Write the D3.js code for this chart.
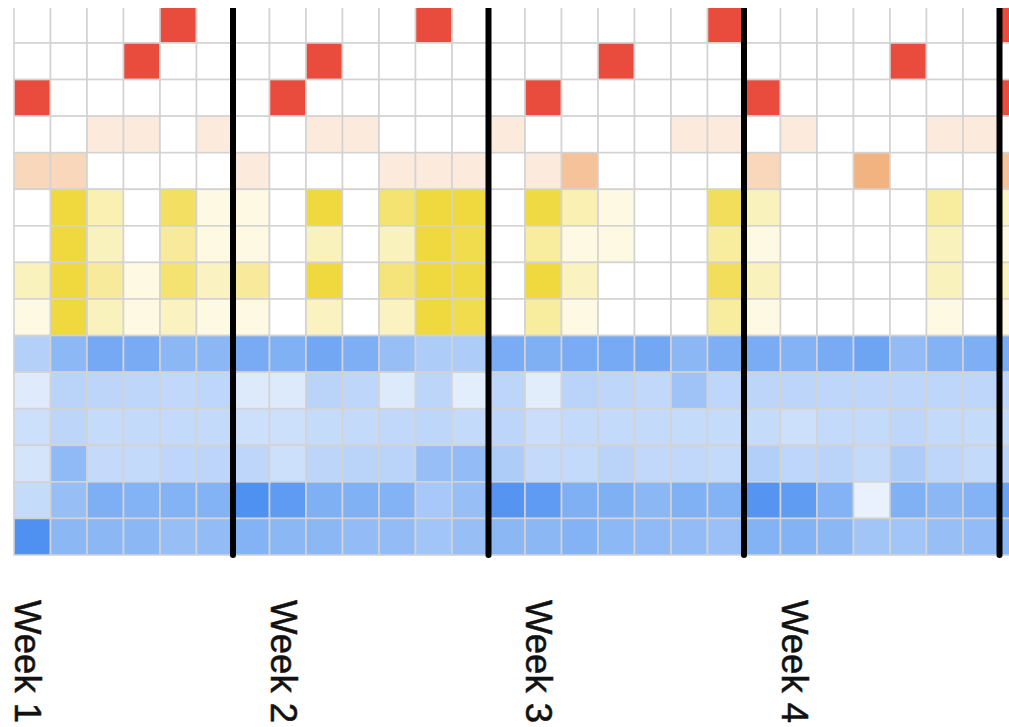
<!DOCTYPE html>
<html>
<head>
<meta charset="utf-8">
<script src="https://cdn.jsdelivr.net/npm/d3@7"></script>
<style>
html, body { margin: 0; padding: 0; background: #ffffff; overflow: hidden; }
</style>
</head>
<body>
<svg id="chart" width="1009" height="727"></svg>
<script>
// ---- data ----
const days = d3.range(1, 29).map(d => "Day " + d);
const weekLabels = ["Week 1", "Week 2", "Week 3", "Week 4"];
const weekLabelDays = ["Day 1", "Day 8", "Day 15", "Day 22"];
const weekBreakDays = ["Day 7", "Day 14", "Day 21", "Day 28"];

const rowNames = ["R1","R2","R3","P1","P2","Y1","Y2","Y3","Y4","B1","B2","B3","B4","B5","B6"];
const rowGroups = ["red","red","red","peach","peach","yellow","yellow","yellow","yellow","blue","blue","blue","blue","blue","blue"];

const red1 = [0,0,0,0,100,0,0, 0,0,0,0,100,0,0, 0,0,0,0,0,100,0, 0,0,0,0,0,0,100];
const red2 = [0,0,0,100,0,0,0, 0,100,0,0,0,0,0, 0,0,100,0,0,0,0, 0,0,0,100,0,0,0];
const red3 = [100,0,0,0,0,0,0, 100,0,0,0,0,0,0, 100,0,0,0,0,0,100, 0,0,0,0,0,0,100];

const peach1 = [0,0,20,20,0,20,0, 0,20,20,0,0,0,20, 0,0,0,0,20,20,0, 20,0,0,0,20,20,0];
const peach2 = [40,40,0,0,0,0,20, 0,0,0,20,20,20,0, 20,60,0,0,0,0,40, 0,0,75,0,0,0,60];

const yellow1 = [0,100,40,0,82,15,15, 0,100,0,74,100,100,0, 98,40,15,0,0,86,35, 0,0,0,0,50,0,30];
const yellow2 = [0,100,35,0,52,15,15, 0,35,0,35,100,92,0, 50,15,15,0,0,50,15, 0,0,0,0,35,0,15];
const yellow3 = [35,100,52,15,74,33,52, 0,100,0,70,100,98,0, 100,33,0,0,0,86,35, 0,0,0,0,35,0,35];
const yellow4 = [15,100,35,15,33,15,15, 0,33,0,33,100,92,0, 50,15,0,0,0,50,15, 0,0,0,0,15,0,15];

const blue1 = [33,58,73,71,59,59,71, 65,75,67,51,37,37,70, 66,70,72,75,59,67,70, 63,71,77,54,63,67,70];
const blue2 = [6,30,28,27,25,27,7, 7,30,27,7,28,3,28, 4,30,27,25,46,27,28, 28,27,27,27,27,27,27];
const blue3 = [18,28,22,23,23,23,17, 17,22,23,25,27,23,28, 19,23,23,23,22,22,22, 17,23,23,27,23,22,22];
const blue4 = [13,56,23,23,27,28,27, 17,28,30,30,51,54,37, 23,23,30,25,25,23,34, 27,30,23,37,27,23,30];
const blue5 = [22,51,67,63,63,63,97, 87,66,65,63,41,51,93, 87,66,66,59,65,63,93, 86,63,0,65,59,63,80];
const blue6 = [97,59,59,59,51,54,63, 59,59,54,54,44,51,59, 59,63,58,56,54,49,63, 63,59,44,44,51,54,60];

const rowValues = [red1, red2, red3, peach1, peach2, yellow1, yellow2, yellow3, yellow4,
                   blue1, blue2, blue3, blue4, blue5, blue6];

// ---- scales ----
const svg = d3.select("#chart");
const cellW = 36.5;
const x = d3.scaleBand().domain(days).range([14, 14 + cellW * days.length]).padding(0);
const y = d3.scaleBand().domain(rowNames).range([6.4, 555]).padding(0);

const colorScales = {
  red: d3.scaleLinear().domain([0, 100]).range(["#ffffff", "#e94c3c"]),
  peach: d3.scaleLinear().domain([0, 100]).range(["#ffffff", "#ee9a55"]),
  yellow: d3.scaleLinear().domain([0, 100]).range(["#ffffff", "#f0d93f"]),
  blue: d3.scaleLinear().domain([0, 100]).range(["#e8f1fd", "#4a8ef0"])
};

const cells = [];
rowNames.forEach((r, i) => {
  rowValues[i].forEach((v, j) => {
    cells.push({ row: r, day: days[j], value: v, group: rowGroups[i] });
  });
});

svg.append("defs").append("clipPath").attr("id", "clip")
  .append("rect").attr("x", 0).attr("y", 8).attr("width", 1009).attr("height", 719);

const g = svg.append("g").attr("clip-path", "url(#clip)");

g.append("g").selectAll("rect")
  .data(cells)
  .join("rect")
  .attr("x", d => x(d.day))
  .attr("y", d => y(d.row))
  .attr("width", x.bandwidth())
  .attr("height", y.bandwidth())
  .attr("fill", d => colorScales[d.group](d.value))
  .attr("stroke", "#d3d3d3")
  .attr("stroke-width", 1.6);

// week separators
g.append("g").selectAll("line")
  .data(weekBreakDays)
  .join("line")
  .attr("x1", d => x(d))
  .attr("x2", d => x(d))
  .attr("y1", y.range()[0] - 4)
  .attr("y2", y.range()[1])
  .attr("stroke", "#000000")
  .attr("stroke-width", 6)
  .attr("stroke-linecap", "round");

// week labels
svg.append("g").selectAll("text")
  .data(weekLabels)
  .join("text")
  .attr("transform", (d, i) => `translate(${x(weekLabelDays[i]) + 1},600) rotate(90)`)
  .attr("text-anchor", "start")
  .attr("font-family", "'Liberation Sans', Arial, Helvetica, sans-serif")
  .attr("font-size", 36.5)
  .attr("fill", "#111111")
  .attr("stroke", "#111111")
  .attr("stroke-width", 0.5)
  .text(d => d);
</script>
</body>
</html>
